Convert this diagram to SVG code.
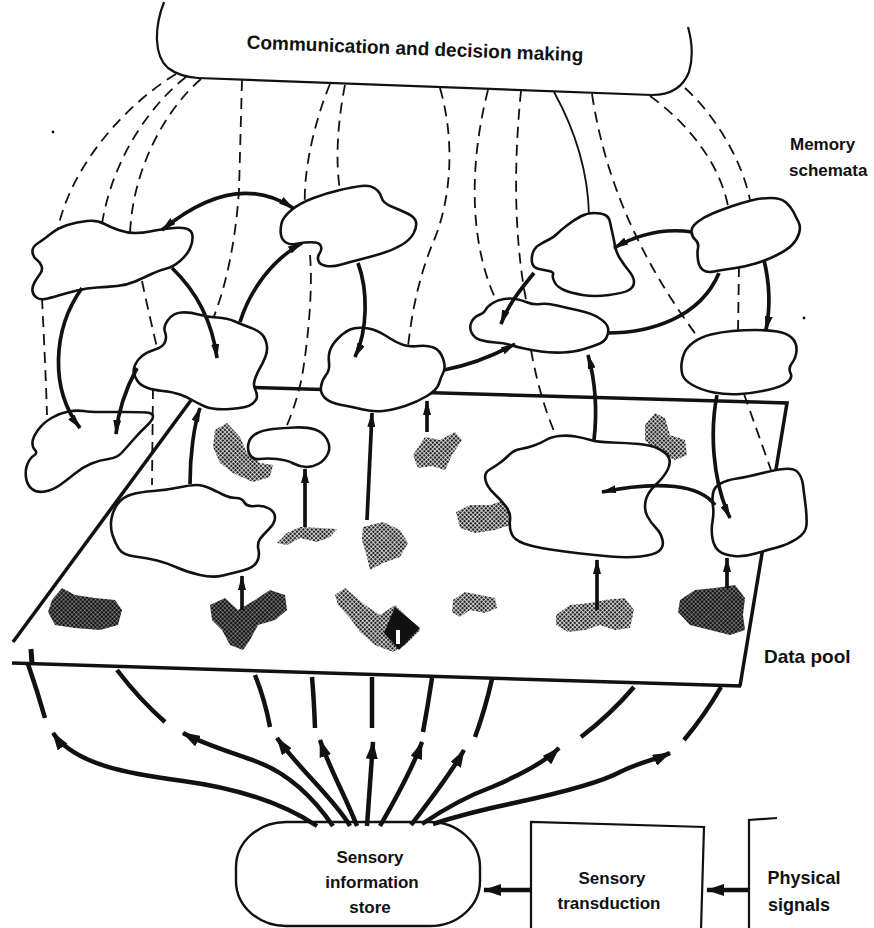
<svg xmlns="http://www.w3.org/2000/svg" width="874" height="928" viewBox="0 0 874 928">
<defs>
<style>
.blob{fill:#fff;stroke:#111;stroke-width:2.6;stroke-linejoin:round}
.dash{fill:none;stroke:#111;stroke-width:1.8;stroke-dasharray:11 7}
.thin{fill:none;stroke:#111;stroke-width:1.8}
.thick{fill:none;stroke:#111;stroke-width:3.7}
.edge{fill:none;stroke:#111;stroke-width:3.5}
.sens{fill:none;stroke:#111;stroke-width:4.5}
.box{fill:#fff;stroke:#111;stroke-width:2.4}
.lbl{font-family:"Liberation Sans",Arial,sans-serif;font-weight:bold;fill:#111}
.sh{fill:url(#st);stroke:none}
.shd{fill:url(#st2);stroke:none}
</style>
<pattern id="st" width="3" height="3" patternUnits="userSpaceOnUse" patternTransform="rotate(45)"><rect width="2.3" height="2.3" fill="#222"/></pattern>
<pattern id="st2" width="3" height="3" patternUnits="userSpaceOnUse" patternTransform="rotate(45)"><rect width="2.7" height="2.7" fill="#111"/></pattern>
<marker id="a" viewBox="0 0 15 8" refX="14" refY="4" markerWidth="15" markerHeight="8" markerUnits="userSpaceOnUse" orient="auto"><path d="M0,0 L15,4 L0,8 z" fill="#111"/></marker>
<marker id="as" viewBox="0 0 15 8" refX="14" refY="4" markerWidth="15" markerHeight="8" markerUnits="userSpaceOnUse" orient="auto-start-reverse"><path d="M0,0 L15,4 L0,8 z" fill="#111"/></marker>
<marker id="b" viewBox="0 0 18 12" refX="17" refY="6" markerWidth="18" markerHeight="12" markerUnits="userSpaceOnUse" orient="auto"><path d="M0,0 L18,6 L0,12 z" fill="#111"/></marker>
</defs>
<rect width="874" height="928" fill="#fff"/>

<g id="decision-making">
<path class="thin" style="stroke-width:2.2" d="M164,2 C154,28 154,56 168,68 Q180,77 198,78 L652,95 Q680,95 689,72 Q695,52 688,27"/>
<text class="lbl" font-size="19" x="415" y="55" text-anchor="middle" transform="rotate(2.2 415 49)">Communication and decision making</text>
</g>

<g id="memory-schemata-label">
<text class="lbl" font-size="17" x="790" y="150">Memory</text>
<text class="lbl" font-size="17" x="789" y="176">schemata</text>
</g>

<g id="data-pool">
<path class="edge" d="M200,386 L787,403 L740,686"/>
<path class="edge" d="M200,388 L13,642"/>
<path class="edge" d="M12,663 L741,686"/>
<text class="lbl" font-size="19" x="764" y="663">Data pool</text>
</g>

<g id="data-items">
<polygon class="sh" points="215,430 227,423 240,437 247,453 260,463 273,465 270,477 253,482 233,473 220,463 213,447"/>
<polygon class="sh" points="277,543 287,533 300,527 320,528 337,529 330,537 317,542 300,538 287,545"/>
<polygon class="sh" points="363,527 383,522 400,530 408,543 400,557 383,563 370,570 367,557 362,540"/>
<polygon class="sh" points="413,455 425,437 440,440 455,432 462,440 452,455 445,470 432,466 418,468"/>
<polygon class="shd" points="52,600 62,588 75,595 95,598 115,600 122,610 118,625 100,630 75,628 55,625 48,612"/>
<polygon class="shd" points="210,605 225,598 238,610 255,600 270,590 285,595 287,610 275,620 258,625 250,640 243,650 230,645 222,630 212,620"/>
<polygon class="sh" points="335,595 345,588 365,605 380,615 395,605 420,630 405,645 393,652 375,645 360,632 350,618 338,605"/>
<polygon fill="#111" points="395,607 420,628 399,650 384,633"/>
<rect x="396" y="630" width="4" height="14" fill="#fff"/>
<polygon class="sh" points="453,600 465,592 480,595 495,598 497,608 485,613 470,610 460,617 452,612"/>
<polygon class="sh" points="556,615 570,605 590,603 605,600 625,598 634,610 630,628 615,630 600,625 585,630 568,632 556,625"/>
<polygon class="shd" points="680,600 695,590 715,588 735,585 745,598 743,615 745,630 730,635 710,630 690,625 678,612"/>
<polygon class="sh" points="645,425 655,413 665,418 670,435 685,440 687,455 675,460 665,455 655,450 645,440"/>
<polygon class="sh" points="456,512 470,505 490,505 505,500 512,510 510,525 495,530 475,533 460,528"/>
</g>

<g id="schema-links">
<path class="dash" d="M176,74 C125,105 72,165 58,228"/>
<path class="dash" d="M42,298 C44,340 46,380 47,415"/>
<path class="dash" d="M186,77 C150,105 112,160 102,224"/>
<path class="dash" d="M201,79 C165,110 132,170 130,235"/>
<path class="dash" d="M142,281 C148,310 153,330 158,352"/>
<path class="dash" d="M153,388 L152,485"/>
<path class="dash" d="M242,80 L239,190 Q234,265 213,319"/>
<path class="dash" d="M330,84 C315,120 303,170 305,207"/>
<path class="dash" d="M310,255 C313,290 308,340 302,377 Q296,405 285,430"/>
<path class="dash" d="M345,85 C338,120 335,160 340,190"/>
<path class="dash" d="M440,88 C455,140 452,200 432,245 Q414,290 408,347"/>
<path class="dash" d="M488,90 C470,160 468,240 496,300"/>
<path class="dash" d="M521,91 C515,150 512,230 527,305"/>
<path class="dash" d="M531,350 Q540,400 557,438"/>
<path class="thin" d="M554,92 C575,130 588,170 589,215"/>
<path class="dash" d="M592,94 C605,180 640,260 700,340"/>
<path class="dash" d="M650,96 C690,125 720,165 728,206"/>
<path class="dash" d="M739,266 L738,332"/>
<path class="dash" d="M685,88 C715,115 742,160 750,200"/>
<path class="dash" d="M744,394 L771,470"/>
</g>

<g id="schema-1"><path class="blob" d="M32.5,252 Q32,247 37.5,243.5 Q43,240 50.5,234 Q58,228 67.5,225 Q77,222 87,221 Q97,220 103.5,223.5 Q110,227 118.5,230 Q127,233 135,233 Q143,233 150,231.5 Q157,230 168.5,228.5 Q180,227 186,228.5 Q192,230 192.5,236 Q193,242 190,248.5 Q187,255 180,261 Q173,267 166.5,268.5 Q160,270 151.5,274 Q143,278 135,281.5 Q127,285 117,286 Q107,287 97,287.5 Q87,288 77,290.5 Q67,293 58.5,295.5 Q50,298 45,299 Q40,300 36.5,297.5 Q33,295 32.5,291 Q32,287 34.5,282.5 Q37,278 40,274 Q43,270 41.5,266 Q40,262 36.5,259.5 Q33,257 32.5,252 Z"/></g>
<g id="schema-2"><path class="blob" d="M281.5,223.5 Q283,217 291.5,210 Q300,203 313.5,198 Q327,193 340,190 Q353,187 361.5,186 Q370,185 375,188.5 Q380,192 381.5,197.5 Q383,203 391.5,206.5 Q400,210 407.5,213.5 Q415,217 416,222 Q417,227 413.5,233.5 Q410,240 401.5,245 Q393,250 381.5,253.5 Q370,257 360,259.5 Q350,262 341.5,264.5 Q333,267 326.5,266 Q320,265 318.5,261 Q317,257 319.5,253.5 Q322,250 321,246.5 Q320,243 315,242.5 Q310,242 305,242.5 Q300,243 295,244 Q290,245 286,242.5 Q282,240 281,235 Q280,230 281.5,223.5 Z"/></g>
<g id="schema-3"><path class="blob" d="M165,332 Q163,327 168,320 Q173,313 181.5,312.5 Q190,312 198.5,314.5 Q207,317 217,317.5 Q227,318 235,321.5 Q243,325 250,327.5 Q257,330 261,333.5 Q265,337 266.5,343.5 Q268,350 265.5,356.5 Q263,363 260,368 Q257,373 255,379 Q253,385 255,389 Q257,393 257,396.5 Q257,400 252,404 Q247,408 230,409 Q213,410 205,406.5 Q197,403 192,400 Q187,397 180,394.5 Q173,392 163,391 Q153,390 146.5,387.5 Q140,385 137.5,381 Q135,377 134,373.5 Q133,370 135,365 Q137,360 142,356 Q147,352 155,349.5 Q163,347 165,342 Q167,337 165,332 Z"/></g>
<g id="schema-4"><path class="blob" d="M330.5,349 Q333,343 340,336.5 Q347,330 353.5,328.5 Q360,327 368.5,328.5 Q377,330 387,336.5 Q397,343 403.5,345 Q410,347 418.5,346 Q427,345 433.5,347.5 Q440,350 443,358.5 Q446,367 443.5,372 Q441,377 439,383.5 Q437,390 427,396 Q417,402 405,406 Q393,410 383,411 Q373,412 363,409.5 Q353,407 341.5,405 Q330,403 325,398 Q320,393 321,386.5 Q322,380 326,375 Q330,370 329,362.5 Q328,355 330.5,349 Z"/></g>
<g id="schema-5"><path class="blob" d="M532.5,264 Q531,260 532.5,254 Q534,248 539,245 Q544,242 549,239.5 Q554,237 557.5,233.5 Q561,230 567.5,225 Q574,220 580.5,216.5 Q587,213 594,213 Q601,213 605,215 Q609,217 610,222 Q611,227 612.5,233.5 Q614,240 615,246 Q616,252 620,258.5 Q624,265 629,271 Q634,277 634,282 Q634,287 629,290 Q624,293 609,295 Q594,297 582.5,295 Q571,293 564,290 Q557,287 554.5,282 Q552,277 553,274.5 Q554,272 549,271 Q544,270 539,269 Q534,268 532.5,264 Z"/></g>
<g id="schema-6"><path class="blob" d="M485.5,310 Q487,307 492,303.5 Q497,300 504,299 Q511,298 516,299 Q521,300 527.5,302.5 Q534,305 540.5,304 Q547,303 557,305.5 Q567,308 579,310.5 Q591,313 599,318 Q607,323 608,328 Q609,333 606.5,337.5 Q604,342 597.5,344.5 Q591,347 582.5,349.5 Q574,352 562.5,352.5 Q551,353 541,351.5 Q531,350 524,348.5 Q517,347 510.5,345 Q504,343 495.5,342.5 Q487,342 480.5,340 Q474,338 471.5,332.5 Q469,327 471.5,322 Q474,317 479,315 Q484,313 485.5,310 Z"/></g>
<g id="schema-7"><path class="blob" d="M691.5,232 Q691,227 697.5,222 Q704,217 712.5,213.5 Q721,210 731,206.5 Q741,203 751,200.5 Q761,198 771,198 Q781,198 786,202.5 Q791,207 793.5,212 Q796,217 798.5,222 Q801,227 799,233.5 Q797,240 792,245 Q787,250 777,255 Q767,260 755.5,263.5 Q744,267 732.5,268.5 Q721,270 714,271.5 Q707,273 703,270 Q699,267 698,260 Q697,253 698,248 Q699,243 695.5,240 Q692,237 691.5,232 Z"/></g>
<g id="schema-8"><path class="blob" d="M684.5,352.5 Q687,347 694,342 Q701,337 711,334.5 Q721,332 732.5,331 Q744,330 755.5,330 Q767,330 777,331.5 Q787,333 792,338 Q797,343 796.5,350.5 Q796,358 792,363 Q788,368 790.5,373 Q793,378 787,382.5 Q781,387 767.5,390 Q754,393 740.5,394 Q727,395 714,392.5 Q701,390 692.5,385 Q684,380 682.5,375 Q681,370 681.5,364 Q682,358 684.5,352.5 Z"/></g>
<g id="schema-9"><path class="blob" d="M32.5,442 Q33,437 38,430 Q43,423 51.5,418 Q60,413 68.5,411.5 Q77,410 83.5,411 Q90,412 100,412 Q110,412 125,412 Q140,412 146.5,412.5 Q153,413 153,416.5 Q153,420 146.5,426 Q140,432 133.5,439.5 Q127,447 122,452.5 Q117,458 108.5,459 Q100,460 91.5,463.5 Q83,467 75,473.5 Q67,480 60,485 Q53,490 45,491.5 Q37,493 32,489 Q27,485 26,477.5 Q25,470 27.5,464 Q30,458 34,455.5 Q38,453 35,450 Q32,447 32.5,442 Z"/></g>
<g id="schema-10"><path class="blob" d="M248.5,443.5 Q250,437 256.5,433.5 Q263,430 273,429 Q283,428 295,427.5 Q307,427 315,429.5 Q323,432 327,439.5 Q331,447 328,453.5 Q325,460 319,463.5 Q313,467 306.5,467 Q300,467 293.5,463.5 Q287,460 277,459 Q267,458 260,459 Q253,460 250,455 Q247,450 248.5,443.5 Z"/></g>
<g id="schema-11"><path class="blob" d="M111.5,518.5 Q113,510 118,503.5 Q123,497 131.5,494.5 Q140,492 153.5,491 Q167,490 178.5,487.5 Q190,485 196.5,485 Q203,485 211.5,489 Q220,493 225,495.5 Q230,498 236,498 Q242,498 244.5,502.5 Q247,507 255,506 Q263,505 269,508.5 Q275,512 275,517.5 Q275,523 269,529 Q263,535 260,539 Q257,543 258.5,550 Q260,557 256.5,562.5 Q253,568 243,570.5 Q233,573 223,575.5 Q213,578 200,575 Q187,572 177,567.5 Q167,563 157,560.5 Q147,558 135,556.5 Q123,555 119,549 Q115,543 112.5,535 Q110,527 111.5,518.5 Z"/></g>
<g id="schema-12"><path class="blob" d="M485.5,480 Q484,473 489,470 Q494,467 499,463.5 Q504,460 509,455 Q514,450 520.5,449 Q527,448 534,445.5 Q541,443 546,440 Q551,437 559,436 Q567,435 575.5,436.5 Q584,438 590.5,440 Q597,442 612,442.5 Q627,443 639,444 Q651,445 659,449 Q667,453 669,458 Q671,463 667.5,470 Q664,477 655.5,485 Q647,493 645.5,501.5 Q644,510 647.5,516.5 Q651,523 656,528 Q661,533 662.5,540 Q664,547 659,551 Q654,555 640.5,556.5 Q627,558 610.5,556.5 Q594,555 580.5,553.5 Q567,552 550.5,549.5 Q534,547 524,543.5 Q514,540 511.5,533.5 Q509,527 510,520 Q511,513 506,506.5 Q501,500 494,493.5 Q487,487 485.5,480 Z"/></g>
<g id="schema-13"><path class="blob" d="M713,493.5 Q714,487 720.5,483.5 Q727,480 737,478.5 Q747,477 760.5,473.5 Q774,470 784,469 Q794,468 798,472.5 Q802,477 803,485 Q804,493 805.5,505 Q807,517 806.5,525 Q806,533 796.5,539 Q787,545 777,547.5 Q767,550 755.5,553.5 Q744,557 734,556 Q724,555 719,551 Q714,547 712.5,538.5 Q711,530 712.5,521.5 Q714,513 713,506.5 Q712,500 713,493.5 Z"/></g>

<g id="sensory-store">
<rect class="box" x="236" y="822" width="244" height="104" rx="50" ry="45"/>
<text class="lbl" font-size="17" text-anchor="middle" x="370" y="863">Sensory</text>
<text class="lbl" font-size="17" text-anchor="middle" x="372" y="888">information</text>
<text class="lbl" font-size="17" text-anchor="middle" x="370" y="913">store</text>
</g>
<g id="sensory-transduction">
<path class="thin" style="stroke-width:2.2" d="M531,930 L531,822 L704,827 L701,930"/>
<text class="lbl" font-size="17" text-anchor="middle" x="612" y="884">Sensory</text>
<text class="lbl" font-size="17" text-anchor="middle" x="609" y="909">transduction</text>
</g>
<g id="physical-signals">
<path class="thin" style="stroke-width:2.2" d="M777,818 L749,820 L749,930"/>
<text class="lbl" font-size="18" text-anchor="middle" x="804" y="884">Physical</text>
<text class="lbl" font-size="18" text-anchor="middle" x="799" y="911">signals</text>
</g>

<g id="connectors">
<path class="thick" marker-start="url(#as)" marker-end="url(#a)" d="M162,230 Q235,170 293,208"/>
<path class="thick" marker-end="url(#a)" d="M172,268 C195,290 212,320 217,358"/>
<path class="thick" marker-end="url(#a)" d="M82,288 C52,330 50,390 80,428"/>
<path class="thick" marker-end="url(#a)" d="M240,322 C250,290 272,260 302,243"/>
<path class="thick" marker-end="url(#a)" d="M358,263 C368,290 368,330 355,357"/>
<path class="thick" marker-end="url(#a)" d="M137,368 C124,392 118,412 116,434"/>
<path class="thick" marker-end="url(#a)" d="M190,484 C190,455 194,425 200,408"/>
<path class="thick" marker-end="url(#a)" d="M305,527 L305,469"/>
<path class="thick" marker-end="url(#a)" d="M367,520 L372,413"/>
<path class="thick" marker-end="url(#a)" d="M427,432 L427,401"/>
<path class="thick" marker-end="url(#a)" d="M242,610 L242,576"/>
<path class="thick" marker-end="url(#a)" d="M692,232 C665,228 640,233 614,248"/>
<path class="thick" marker-end="url(#a)" d="M534,273 C520,290 508,305 501,324"/>
<path class="thick" d="M607,333 C650,333 700,318 719,273"/>
<path class="thick" marker-end="url(#a)" d="M444,370 C470,365 495,355 515,344"/>
<path class="thick" marker-end="url(#a)" d="M764,260 C770,285 770,310 766,330"/>
<path class="thick" marker-end="url(#a)" d="M594,440 C598,405 595,380 588,355"/>
<path class="thick" marker-end="url(#a)" d="M715,505 C700,485 660,480 602,492"/>
<path class="thick" marker-end="url(#a)" d="M717,395 C710,430 712,480 730,518"/>
<path class="thick" marker-end="url(#a)" d="M597,610 L597,560"/>
<path class="thick" marker-end="url(#a)" d="M727,588 L727,558"/>

<path class="sens" style="stroke-width:5" d="M31,649 L32,664"/>
<path class="sens" d="M28,664 Q37,690 45,718"/>
<path class="sens" d="M117,670 Q140,700 165,722"/>
<path class="sens" d="M255,675 Q265,700 270,727"/>
<path class="sens" d="M312,677 Q314,700 315,728"/>
<path class="sens" d="M372,677 L372,728"/>
<path class="sens" d="M432,678 Q428,705 423,732"/>
<path class="sens" d="M492,679 Q485,710 475,737"/>
<path class="sens" d="M634,687 Q610,715 581,737"/>
<path class="sens" d="M721,687 Q705,715 684,740"/>

<path class="sens" marker-end="url(#b)" d="M317,826 C290,808 250,790 183,781 C130,774 75,765 53,733"/>
<path class="sens" marker-end="url(#b)" d="M333,826 C315,800 290,775 260,763 C240,755 205,745 183,733"/>
<path class="sens" marker-end="url(#b)" d="M350,826 C335,800 300,770 277,738"/>
<path class="sens" marker-end="url(#b)" d="M357,826 C345,795 330,770 320,740"/>
<path class="sens" marker-end="url(#b)" d="M367,826 L373,742"/>
<path class="sens" marker-end="url(#b)" d="M380,826 C395,800 412,770 422,742"/>
<path class="sens" marker-end="url(#b)" d="M411,825 C430,800 450,775 464,750"/>
<path class="sens" marker-end="url(#b)" d="M422,824 C450,805 470,795 492,787 C520,775 545,762 559,748"/>
<path class="sens" marker-end="url(#b)" d="M433,824 C460,815 490,808 514,803 C560,793 600,783 620,772 C640,762 655,760 670,753"/>

<path class="sens" marker-end="url(#b)" d="M749,890 L707,890"/>
<path class="sens" marker-end="url(#b)" d="M531,890 L484,890"/>
</g>

<circle cx="53" cy="132" r="1.4" fill="#111"/>
<circle cx="804" cy="318" r="1.4" fill="#111"/>
</svg>
